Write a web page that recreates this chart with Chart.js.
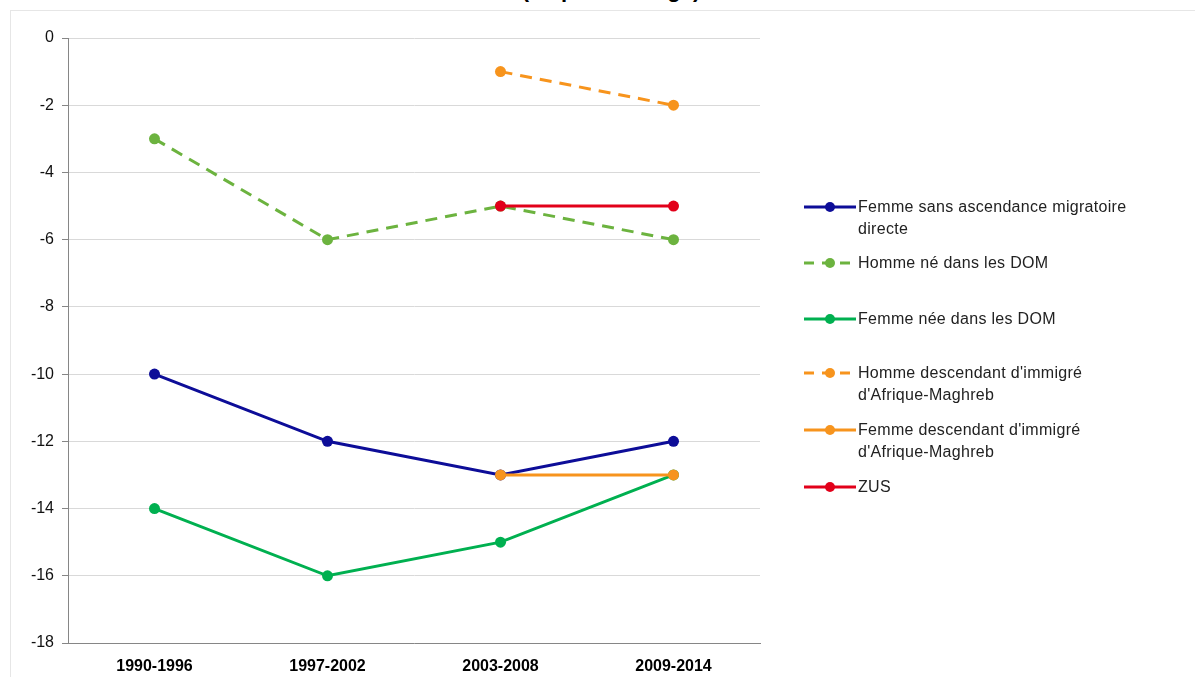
<!DOCTYPE html>
<html>
<head>
<meta charset="utf-8">
<script src="https://cdn.jsdelivr.net/npm/chart.js@4/dist/chart.umd.min.js"></script>
<style>
  html, body { margin: 0; padding: 0; background: #fff; overflow: hidden; }
  #wrap { position: relative; width: 1195px; height: 677px; font-family: "Liberation Sans", Arial, sans-serif; }
  #frame { position: absolute; left: 10px; top: 10px; width: 1190px; height: 700px; border: 1px solid #e6e6e6; box-sizing: border-box; }
  #title { position: absolute; left: 0; width: 1222px; top: -21px; text-align: center; font-weight: bold; font-size: 22px; line-height: 22px; color: #000; }
  canvas { position: absolute; left: 0; top: 0; }
  #legend { position: absolute; left: 803px; top: 0; font-size: 16px; color: #222; letter-spacing: 0.3px; }
  .item { position: absolute; left: 0; width: 340px; line-height: 22px; }
  .item svg { position: absolute; left: 0; top: 1px; }
  .item span { position: absolute; left: 55px; top: 0; white-space: nowrap; }
</style>
</head>
<body>
<div id="wrap">
  <div id="frame"></div>
  <div id="title">(en pourcentage)</div>
  <canvas id="chart" width="1195" height="677"></canvas>
  <div id="legend"></div>
</div>
<script>
var categories = ['1990-1996', '1997-2002', '2003-2008', '2009-2014'];

var femmeSansAscendance = [-10, -12, -13, -12];
var hommeNeDom = [-3, -6, -5, -6];
var femmeNeeDom = [-14, -16, -15, -13];
var hommeDescAfrique = [null, null, -1, -2];
var femmeDescAfrique = [null, null, -13, -13];
var zus = [null, null, -5, -5];

var yTicks = [0, -2, -4, -6, -8, -10, -12, -14, -16, -18];

var series = [
  { label: ['Femme sans ascendance migratoire', 'directe'], data: femmeSansAscendance, color: '#0d0d98', dash: [], top: 196 },
  { label: ['Homme né dans les DOM'], data: hommeNeDom, color: '#6cb33f', dash: [12, 8], top: 252 },
  { label: ['Femme née dans les DOM'], data: femmeNeeDom, color: '#00b050', dash: [], top: 308 },
  { label: ["Homme descendant d'immigré", "d'Afrique-Maghreb"], data: hommeDescAfrique, color: '#f7941d', dash: [12, 8], top: 362 },
  { label: ["Femme descendant d'immigré", "d'Afrique-Maghreb"], data: femmeDescAfrique, color: '#f7941d', dash: [], top: 419 },
  { label: ['ZUS'], data: zus, color: '#e2001a', dash: [], top: 476 }
];

var datasets = series.map(function(s, i) {
  return {
    label: s.label.join(' '),
    data: s.data,
    borderColor: s.color,
    backgroundColor: s.color,
    pointBackgroundColor: s.color,
    pointBorderColor: s.color,
    borderWidth: 3,
    borderDash: s.dash,
    pointRadius: 5.5,
    pointBorderWidth: 0,
    tension: 0,
    fill: false,
    spanGaps: false,
    order: series.length - i
  };
});

// legend, drawn as html so the labels can wrap over two lines
var legend = document.getElementById('legend');
series.forEach(function(s) {
  var item = document.createElement('div');
  item.className = 'item';
  item.style.top = s.top + 'px';
  var dash = s.dash.length ? 'stroke-dasharray="10 8"' : '';
  item.innerHTML = '<svg width="54" height="20"><line x1="1" y1="10" x2="53" y2="10" stroke="' + s.color +
    '" stroke-width="3" ' + dash + '/><circle cx="27" cy="10" r="5" fill="' + s.color + '"/></svg>' +
    '<span>' + s.label.join('<br>') + '</span>';
  legend.appendChild(item);
});

new Chart(document.getElementById('chart').getContext('2d'), {
  type: 'line',
  data: { labels: categories, datasets: datasets },
  options: {
    responsive: false,
    animation: false,
    layout: { padding: { top: 38, left: 10, right: 435, bottom: 0 } },
    plugins: { legend: { display: false }, tooltip: { enabled: false }, title: { display: false } },
    scales: {
      x: {
        offset: true,
        grid: { display: false, drawTicks: false },
        border: { color: '#868686', width: 1 },
        ticks: { color: '#000', padding: 14, font: { family: 'Liberation Sans', size: 16, weight: 'bold' } },
        afterFit: function(scale) { scale.height = 34; }
      },
      y: {
        min: -18,
        max: 0,
        grid: { color: '#d9d9d9', lineWidth: 1, tickLength: 6, tickColor: '#868686' },
        border: { color: '#868686', width: 1 },
        afterBuildTicks: function(scale) { scale.ticks = yTicks.map(function(v) { return { value: v }; }); },
        ticks: { color: '#111', padding: 8, font: { family: 'Liberation Sans', size: 16 } },
        afterFit: function(scale) { scale.width = 58; }
      }
    }
  }
});
</script>
</body>
</html>
